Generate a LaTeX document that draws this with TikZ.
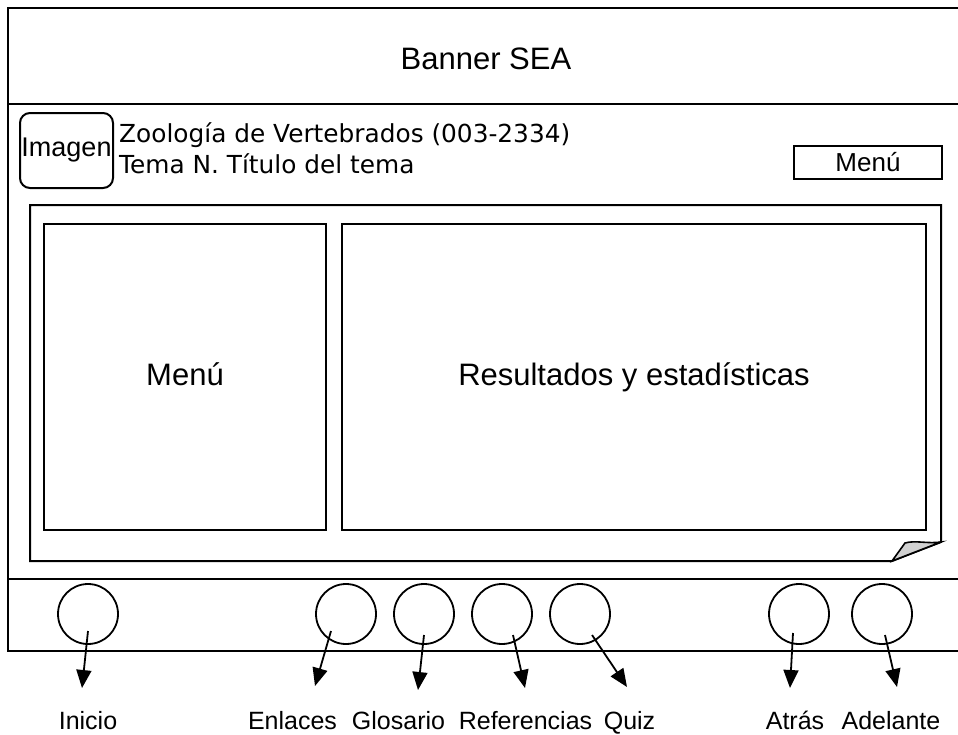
\documentclass[tikz,border=0pt]{standalone}
\usepackage{fontspec}
\setmainfont{Liberation Sans}
\newfontfamily\verd{DejaVu Sans}
\usetikzlibrary{arrows.meta,calc}
\begin{document}
\begin{tikzpicture}[x=1pt,y=-1pt,
  frame/.style={line width=2pt},
  box/.style={draw,line width=2pt,inner sep=0pt},
  btn/.style={draw,circle,line width=1.8pt,minimum size=60pt,inner sep=0pt},
  lbl/.style={inner sep=0pt,anchor=base,font=\fontsize{25}{28}\selectfont},
  nav/.style={line width=1.8pt,-{Triangle[width=15pt,length=18pt]}},
  big/.style={font=\fontsize{31}{36}\selectfont}]
\useasboundingbox (0,0) rectangle (958,734);
% outer frame
\draw[frame] (958,8) -- (8,8) -- (8,651) -- (958,651);
\draw[frame] (8,104) -- (958,104);
\draw[frame] (8,579) -- (958,579);
\node[big,anchor=base] (banner) at (486,69) {Banner SEA};
% header
\node[box,rounded corners=10pt,minimum width=93pt,minimum height=75pt,font=\fontsize{27}{30}\selectfont] (img) at (66.5,150.5) {Imagen};
\node[anchor=base west,inner sep=0pt,font=\verd\fontsize{24.8}{28}\selectfont] (course) at (119,142) {Zoología de Vertebrados (003-2334)};
\node[anchor=base west,inner sep=0pt,font=\verd\fontsize{24.8}{28}\selectfont] (topic) at (119,173) {Tema N. Título del tema};
\node[box,minimum width=148pt,minimum height=33pt,font=\fontsize{26}{28}\selectfont] (menusmall) at (868,162.5) {Menú};
% content area with folded corner
\draw[frame] (30,205) -- (941,205) -- (941,542) -- (892,561) -- (30,561) -- cycle;
\draw[line width=1.6pt,fill=black!18] (892,561) -- (905,543) .. controls (915,540) and (928,544) .. (941,542) -- cycle;
\node[box,minimum width=282pt,minimum height=306pt,big,text height=23pt,text depth=7pt] (menu) at (185,377) {Menú};
\node[box,minimum width=584pt,minimum height=306pt,big,text height=23pt,text depth=7pt] (res) at (634,377) {Resultados y estadísticas};
% buttons
\node[btn] (bInicio) at (88,614) {};
\node[btn] (bEnl) at (346,614) {};
\node[btn] (bGlo) at (424,614) {};
\node[btn] (bRef) at (502,614) {};
\node[btn] (bQuiz) at (580,614) {};
\node[btn] (bAtr) at (799,614) {};
\node[btn] (bAde) at (882,614) {};
% labels
\node[lbl] (lInicio) at (88,729) {Inicio};
\node[lbl] (lEnl) at (292.5,729) {Enlaces};
\node[lbl] (lGlo) at (398.5,729) {Glosario};
\node[lbl] (lRef) at (525.5,729) {Referencias};
\node[lbl] (lQuiz) at (629.5,729) {Quiz};
\node[lbl] (lAtr) at (795,729) {Atrás};
\node[lbl] (lAde) at (891,729) {Adelante};
% arrow end points
\coordinate (tInicio) at (82,688);
\coordinate (tEnl) at (315,686);
\coordinate (tGlo) at (418,690);
\coordinate (tRef) at (525,688);
\coordinate (tQuiz) at (627,687);
\coordinate (tAtr) at (790,688);
\coordinate (tAde) at (897,687);
\draw[nav] ($(bInicio.center)+(0,17)$) -- (tInicio);
\draw[nav] ($(bEnl.center)+(-15,17)$) -- (tEnl);
\draw[nav] ($(bGlo.center)+(0,21)$) -- (tGlo);
\draw[nav] ($(bRef.center)+(11,21)$) -- (tRef);
\draw[nav] ($(bQuiz.center)+(12,21)$) -- (tQuiz);
\draw[nav] ($(bAtr.center)+(-6,19)$) -- (tAtr);
\draw[nav] ($(bAde.center)+(3,21)$) -- (tAde);
\end{tikzpicture}
\end{document}
